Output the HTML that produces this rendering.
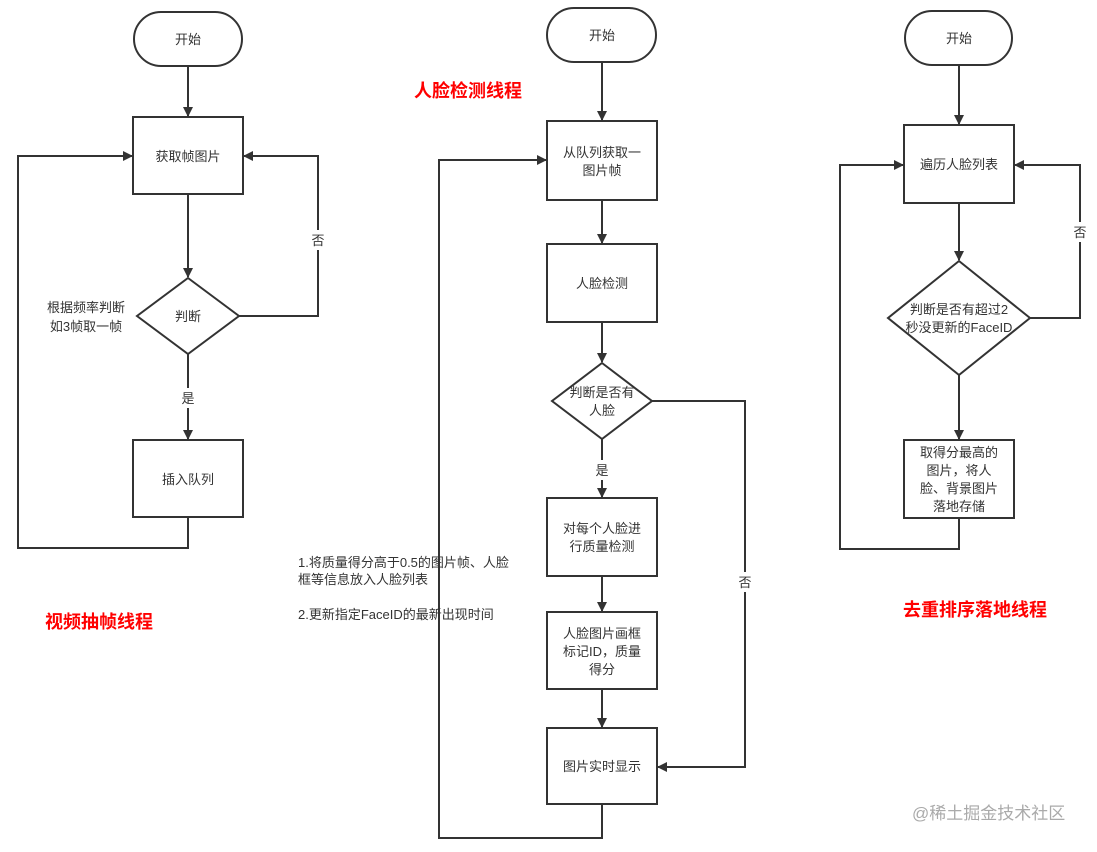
<!DOCTYPE html>
<html><head><meta charset="utf-8"><style>
body{margin:0;background:#fff}
svg text{font-family:"Liberation Sans","Noto Sans CJK SC",sans-serif;font-size:13px;fill:#333}
.r{font-size:18px;font-weight:bold;fill:#f00}
</style></head><body>
<svg width="1097" height="847" viewBox="0 0 1097 847" xmlns="http://www.w3.org/2000/svg">
<defs><marker id="a" markerWidth="10" markerHeight="10" refX="9" refY="5" orient="auto" markerUnits="userSpaceOnUse"><path d="M0,0 L10,5 L0,10 Z" fill="#333"/></marker></defs>
<g fill="none" stroke="#333" stroke-width="2">
<!-- col1 -->
<rect x="134" y="12" width="108" height="54" rx="27"/>
<rect x="133" y="117" width="110" height="77"/>
<path d="M188,278 L239,316 L188,354 L137,316 Z"/>
<rect x="133" y="440" width="110" height="77"/>
<line x1="188" y1="66" x2="188" y2="116" marker-end="url(#a)"/>
<line x1="188" y1="194" x2="188" y2="277" marker-end="url(#a)"/>
<line x1="188" y1="354" x2="188" y2="439" marker-end="url(#a)"/>
<polyline points="188,517 188,548 18,548 18,156 132,156" marker-end="url(#a)"/>
<polyline points="239,316 318,316 318,156 244,156" marker-end="url(#a)"/>
<!-- col2 -->
<rect x="547" y="8" width="109" height="54" rx="27"/>
<rect x="547" y="121" width="110" height="79"/>
<rect x="547" y="244" width="110" height="78"/>
<path d="M602,363 L652,401 L602,439 L552,401 Z"/>
<rect x="547" y="498" width="110" height="78"/>
<rect x="547" y="612" width="110" height="77"/>
<rect x="547" y="728" width="110" height="76"/>
<line x1="602" y1="62" x2="602" y2="120" marker-end="url(#a)"/>
<line x1="602" y1="200" x2="602" y2="243" marker-end="url(#a)"/>
<line x1="602" y1="322" x2="602" y2="362" marker-end="url(#a)"/>
<line x1="602" y1="439" x2="602" y2="497" marker-end="url(#a)"/>
<line x1="602" y1="576" x2="602" y2="611" marker-end="url(#a)"/>
<line x1="602" y1="689" x2="602" y2="727" marker-end="url(#a)"/>
<polyline points="602,804 602,838 439,838 439,160 546,160" marker-end="url(#a)"/>
<polyline points="652,401 745,401 745,767 658,767" marker-end="url(#a)"/>
<!-- col3 -->
<rect x="905" y="11" width="107" height="54" rx="27"/>
<rect x="904" y="125" width="110" height="78"/>
<path d="M959,261 L1030,318 L959,375 L888,318 Z"/>
<rect x="904" y="440" width="110" height="78"/>
<line x1="959" y1="65" x2="959" y2="124" marker-end="url(#a)"/>
<line x1="959" y1="203" x2="959" y2="260" marker-end="url(#a)"/>
<line x1="959" y1="375" x2="959" y2="439" marker-end="url(#a)"/>
<polyline points="959,518 959,549 840,549 840,165 903,165" marker-end="url(#a)"/>
<polyline points="1030,318 1080,318 1080,165 1015,165" marker-end="url(#a)"/>
</g>
<g fill="#fff"><rect x="310" y="230" width="16" height="20"/><rect x="180" y="388" width="16" height="20"/><rect x="594" y="460" width="16" height="20"/><rect x="737" y="572" width="16" height="20"/><rect x="1072" y="222" width="16" height="20"/></g>
<g text-anchor="middle">
<text x="188" y="44">开始</text>
<text x="188" y="161">获取帧图片</text>
<text x="188" y="321">判断</text>
<text x="188" y="484">插入队列</text>
<text x="318" y="245">否</text>
<text x="188" y="403">是</text>
<text x="86" y="312">根据频率判断</text>
<text x="86" y="331">如3帧取一帧</text>
<text x="602" y="40">开始</text>
<text x="602" y="157">从队列获取一</text>
<text x="602" y="175">图片帧</text>
<text x="602" y="288">人脸检测</text>
<text x="602" y="397">判断是否有</text>
<text x="602" y="415">人脸</text>
<text x="602" y="475">是</text>
<text x="602" y="533">对每个人脸进</text>
<text x="602" y="551">行质量检测</text>
<text x="602" y="638">人脸图片画框</text>
<text x="602" y="656">标记ID，质量</text>
<text x="602" y="674">得分</text>
<text x="602" y="771">图片实时显示</text>
<text x="745" y="587">否</text>
<text x="959" y="43">开始</text>
<text x="959" y="169">遍历人脸列表</text>
<text x="959" y="314">判断是否有超过2</text>
<text x="959" y="332">秒没更新的FaceID</text>
<text x="959" y="457">取得分最高的</text>
<text x="959" y="475">图片，将人</text>
<text x="959" y="493">脸、背景图片</text>
<text x="959" y="511">落地存储</text>
<text x="1080" y="237">否</text>
<text class="r" x="99" y="628">视频抽帧线程</text>
<text class="r" x="468" y="97">人脸检测线程</text>
<text class="r" x="975" y="616">去重排序落地线程</text>
</g>
<text x="298" y="567">1.将质量得分高于0.5的图片帧、人脸</text>
<text x="298" y="584">框等信息放入人脸列表</text>
<text x="298" y="619">2.更新指定FaceID的最新出现时间</text>
<text x="912" y="819" style="font-size:17px;fill:#aaa">@稀土掘金技术社区</text>
</svg>
</body></html>
